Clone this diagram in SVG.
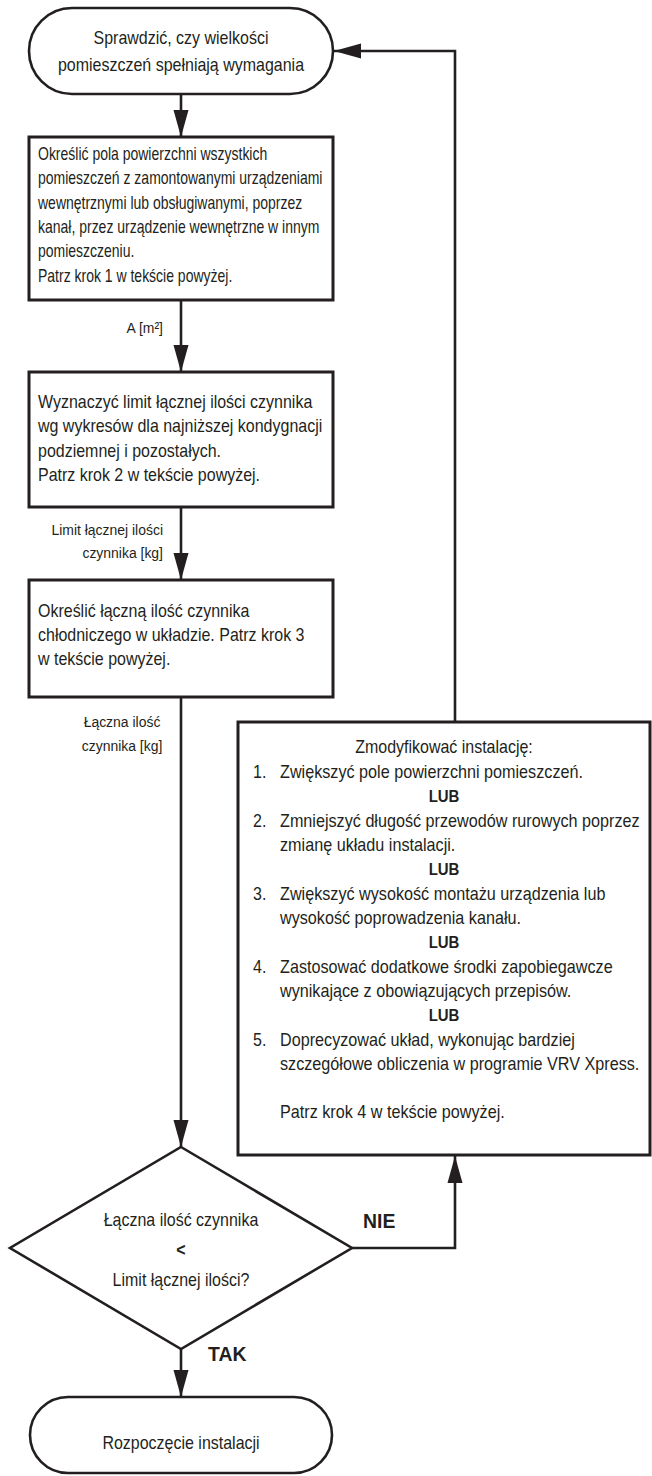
<svg xmlns="http://www.w3.org/2000/svg" width="652" height="1476" viewBox="0 0 652 1476">
<style>
.shape{fill:#fff;stroke:#231f20;stroke-width:2.6}
.box{fill:#fff;stroke:#231f20;stroke-width:3}
.t{font-family:"Liberation Sans",Arial,sans-serif;font-size:17.5px;fill:#231f20}
.s{font-family:"Liberation Sans",Arial,sans-serif;font-size:15.5px;fill:#231f20}
.b{font-family:"Liberation Sans",Arial,sans-serif;font-weight:bold;fill:#231f20}
.c{text-anchor:middle}
.r{text-anchor:end}
.line{fill:none;stroke:#231f20;stroke-width:2.6}
</style>
<defs>
<marker id="ah" markerUnits="userSpaceOnUse" markerWidth="28" markerHeight="16" refX="27" refY="8" orient="auto">
<path d="M0,0.5 L27,8 L0,15.5 z" fill="#231f20"/>
</marker>
</defs>
<g id="connectors">
<path class="line" d="M181,94 V137" marker-end="url(#ah)"/>
<path class="line" d="M181,300 V372" marker-end="url(#ah)"/>
<path class="line" d="M181,507 V580" marker-end="url(#ah)"/>
<path class="line" d="M181,697 V1147" marker-end="url(#ah)"/>
<path class="line" d="M352,1248 H455 V1156" marker-end="url(#ah)"/>
<path class="line" d="M455,722 V51 H334" marker-end="url(#ah)"/>
<path class="line" d="M181,1349 V1397" marker-end="url(#ah)"/>
<g transform="translate(163,0) scale(0.9,1)">
<text class="s r" x="0" y="333">A [m²]</text>
<text class="s r" x="0" y="535">Limit łącznej ilości</text>
<text class="s r" x="0" y="558">czynnika [kg]</text>
</g>
<g transform="translate(122,0) scale(0.9,1)">
<text class="s c" x="0" y="727">Łączna ilość</text>
<text class="s c" x="0" y="751">czynnika [kg]</text>
</g>
<g transform="translate(363,0) scale(0.97,1)">
<text class="b" x="0" y="1228" font-size="20">NIE</text>
</g>
<g transform="translate(208,0) scale(0.97,1)">
<text class="b" x="0" y="1361" font-size="20">TAK</text>
</g>
</g>
<g id="start">
<rect class="shape" x="29" y="8" width="304" height="86" rx="43" ry="43"/>
<g transform="translate(181,0) scale(0.914,1)">
<text class="t c" x="0" y="44">Sprawdzić, czy wielkości</text>
<text class="t c" x="0" y="71">pomieszczeń spełniają wymagania</text>
</g>
</g>
<g id="box1">
<rect class="box" x="29" y="137" width="304" height="163"/>
<g transform="translate(38,0) scale(0.8,1)">
<text class="t" x="0" y="160">Określić pola powierzchni wszystkich</text>
<text class="t" x="0" y="184.5">pomieszczeń z zamontowanymi urządzeniami</text>
<text class="t" x="0" y="209">wewnętrznymi lub obsługiwanymi, poprzez</text>
<text class="t" x="0" y="233">kanał, przez urządzenie wewnętrzne w innym</text>
<text class="t" x="0" y="257.5">pomieszczeniu.</text>
<text class="t" x="0" y="282">Patrz krok 1 w tekście powyżej.</text>
</g>
</g>
<g id="box2">
<rect class="box" x="29" y="372" width="304" height="135"/>
<g transform="translate(38,0) scale(0.914,1)">
<text class="t" x="0" y="408">Wyznaczyć limit łącznej ilości czynnika</text>
<text class="t" x="0" y="432">wg wykresów dla najniższej kondygnacji</text>
<text class="t" x="0" y="457">podziemnej i pozostałych.</text>
<text class="t" x="0" y="481">Patrz krok 2 w tekście powyżej.</text>
</g>
</g>
<g id="box3">
<rect class="box" x="29" y="580" width="304" height="117"/>
<g transform="translate(38,0) scale(0.914,1)">
<text class="t" x="0" y="617">Określić łączną ilość czynnika</text>
<text class="t" x="0" y="641">chłodniczego w układzie. Patrz krok 3</text>
<text class="t" x="0" y="665">w tekście powyżej.</text>
</g>
</g>
<g id="modify">
<rect class="box" x="238" y="722" width="412" height="433"/>
<g transform="translate(444,0) scale(0.914,1)">
<text class="t c" x="0" y="753">Zmodyfikować instalację:</text>
</g>
<g transform="translate(444,0) scale(0.88,1)">
<text class="b c" x="0" y="802" font-size="17">LUB</text>
<text class="b c" x="0" y="875" font-size="17">LUB</text>
<text class="b c" x="0" y="948" font-size="17">LUB</text>
<text class="b c" x="0" y="1021" font-size="17">LUB</text>
</g>
<g transform="translate(253,0) scale(0.914,1)">
<text class="t" x="0" y="778">1.</text>
<text class="t" x="0" y="827">2.</text>
<text class="t" x="0" y="900">3.</text>
<text class="t" x="0" y="973">4.</text>
<text class="t" x="0" y="1046">5.</text>
</g>
<g transform="translate(280,0) scale(0.925,1)">
<text class="t" x="0" y="778">Zwiększyć pole powierzchni pomieszczeń.</text>
<text class="t" x="0" y="827">Zmniejszyć długość przewodów rurowych poprzez</text>
<text class="t" x="0" y="851">zmianę układu instalacji.</text>
<text class="t" x="0" y="900">Zwiększyć wysokość montażu urządzenia lub</text>
<text class="t" x="0" y="924">wysokość poprowadzenia kanału.</text>
<text class="t" x="0" y="973">Zastosować dodatkowe środki zapobiegawcze</text>
<text class="t" x="0" y="997">wynikające z obowiązujących przepisów.</text>
<text class="t" x="0" y="1046">Doprecyzować układ, wykonując bardziej</text>
<text class="t" x="0" y="1070">szczegółowe obliczenia w programie VRV Xpress.</text>
<text class="t" x="0" y="1118">Patrz krok 4 w tekście powyżej.</text>
</g>
</g>
<g id="decision">
<polygon class="shape" points="181,1147 352,1248 181,1349 10,1248"/>
<g transform="translate(181,0) scale(0.914,1)">
<text class="t c" x="0" y="1226">Łączna ilość czynnika</text>
<text class="b c" x="0" y="1256" font-size="17.5">&lt;</text>
<text class="t c" x="0" y="1286">Limit łącznej ilości?</text>
</g>
</g>
<g id="end">
<rect class="shape" x="30" y="1397" width="302" height="76" rx="38" ry="38"/>
<g transform="translate(181,0) scale(0.914,1)">
<text class="t c" x="0" y="1449">Rozpoczęcie instalacji</text>
</g>
</g>
</svg>
